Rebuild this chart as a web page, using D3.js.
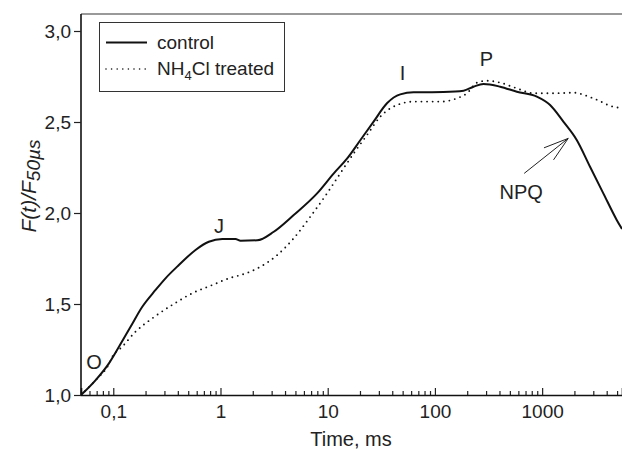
<!DOCTYPE html>
<html>
<head>
<meta charset="utf-8">
<script src="https://cdnjs.cloudflare.com/ajax/libs/d3/7.8.5/d3.min.js"></script>
<style>
body { margin: 0; background: #fff; }
svg { font-family: "Liberation Sans", Arial, sans-serif; }
</style>
</head>
<body>
<script>
// time in ms, fluorescence ratio F(t)/F50us
var controlT = [0.05, 0.0685, 0.0911, 0.113, 0.145, 0.1865, 0.248, 0.307, 0.409, 0.585, 0.778, 1.04, 1.38, 1.54, 2.2, 3.14, 4.82, 7.96, 11.4, 15.2, 20.2, 26.8, 35.7, 47.5, 63.2, 73, 120, 185, 229, 284, 406, 581, 892, 1186, 1577, 2102, 2797, 3721, 4960, 5557]
var controlF = [1.0, 1.082, 1.174, 1.265, 1.375, 1.485, 1.577, 1.641, 1.714, 1.797, 1.842, 1.857, 1.857, 1.848, 1.85, 1.897, 1.989, 2.108, 2.218, 2.30, 2.401, 2.502, 2.603, 2.652, 2.663, 2.663, 2.665, 2.672, 2.694, 2.709, 2.694, 2.666, 2.639, 2.593, 2.502, 2.401, 2.254, 2.108, 1.962, 1.912]

var treatedT = [0.05, 0.0685, 0.0911, 0.098, 0.121, 0.1615, 0.231, 0.355, 0.545, 0.837, 1.285, 1.54, 2.36, 3.38, 4.82, 6.89, 9.86, 13.1, 17.5, 23.3, 30.9, 44.3, 63.2, 112, 160, 199, 246, 305, 406, 581, 829, 1273, 1955, 3002, 4611, 5557]
var treatedF = [1.0, 1.082, 1.17, 1.21, 1.265, 1.348, 1.421, 1.495, 1.559, 1.604, 1.647, 1.659, 1.705, 1.769, 1.861, 1.98, 2.108, 2.218, 2.328, 2.429, 2.529, 2.593, 2.612, 2.612, 2.630, 2.658, 2.716, 2.727, 2.716, 2.685, 2.658, 2.658, 2.661, 2.630, 2.584, 2.577]

var xTicks = [0.1, 1, 10, 100, 1000]
var xTickLabels = ["0,1", "1", "10", "100", "1000"]
var yTicks = [1.0, 1.5, 2.0, 2.5, 3.0]
var yTickLabels = ["1,0", "1,5", "2,0", "2,5", "3,0"]

// phase labels: time, value
var phaseNames = ["O", "J", "I", "P"]
var phaseT = [0.066, 0.97, 50, 303]
var phaseF = [1.18, 1.93, 2.77, 2.845]

var W = 622, H = 452
var mLeft = 81, mRight = 622, mTop = 14, mBottom = 395

var svg = d3.select("body").append("svg")
  .attr("width", W)
  .attr("height", H)

var x = d3.scaleLog().domain([0.05, 5557]).range([mLeft, mRight])
var y = d3.scaleLinear().domain([1, 3.0934]).range([mBottom, mTop])

svg.append("clipPath").attr("id", "plotClip")
  .append("rect")
  .attr("x", mLeft).attr("y", mTop - 2)
  .attr("width", mRight - mLeft).attr("height", mBottom - mTop + 2)

// top frame line
svg.append("line")
  .attr("x1", mLeft).attr("x2", mRight)
  .attr("y1", mTop).attr("y2", mTop)
  .attr("stroke", "#777").attr("stroke-width", 1.5)

// minor x ticks
var minor = []
for (var e = -2; e <= 3; e++) {
  for (var m = 2; m <= 9; m++) {
    var v = m * Math.pow(10, e)
    if (v >= 0.05 && v <= 5557) minor.push(v)
  }
}

var xMinorAxis = d3.axisBottom(x).tickValues(minor).tickSize(-4).tickFormat("")
svg.append("g").attr("transform", "translate(0," + mBottom + ")")
  .call(xMinorAxis)
  .call(function(g) { g.select(".domain").remove() })
  .selectAll("line").attr("stroke", "#222").attr("stroke-width", 1.2)

var xAxis = d3.axisBottom(x)
  .tickValues(xTicks)
  .tickSize(-7)
  .tickPadding(10)
  .tickFormat(function(d, i) { return xTickLabels[i] })

var gx = svg.append("g").attr("transform", "translate(0," + mBottom + ")").call(xAxis)
gx.attr("font-size", 19).attr("font-family", null)
gx.select(".domain").attr("stroke", "#111").attr("stroke-width", 1.6)
gx.selectAll("line").attr("stroke", "#222").attr("stroke-width", 1.2)
gx.selectAll("text").attr("fill", "#222")

var yAxis = d3.axisLeft(y)
  .tickValues(yTicks)
  .tickSize(7)
  .tickPadding(3)
  .tickFormat(function(d, i) { return yTickLabels[i] })

var gy = svg.append("g").attr("transform", "translate(" + mLeft + ",0)").call(yAxis)
gy.attr("font-size", 19).attr("font-family", null)
gy.select(".domain").attr("d", "M0," + mTop + "V" + mBottom).attr("stroke", "#111").attr("stroke-width", 1.6)
gy.selectAll("line").attr("stroke", "#222").attr("stroke-width", 1.2)
gy.selectAll("text").attr("fill", "#222")

// curves
var line = d3.line()
  .x(function(d) { return x(d[0]) })
  .y(function(d) { return y(d[1]) })
  .curve(d3.curveMonotoneX)

var plot = svg.append("g").attr("clip-path", "url(#plotClip)")

plot.append("path")
  .datum(d3.zip(treatedT, treatedF))
  .attr("d", line)
  .attr("fill", "none")
  .attr("stroke", "#111")
  .attr("stroke-width", 1.9)
  .attr("stroke-linecap", "round")
  .attr("stroke-dasharray", "0,5.6")

plot.append("path")
  .datum(d3.zip(controlT, controlF))
  .attr("d", line)
  .attr("fill", "none")
  .attr("stroke", "#111")
  .attr("stroke-width", 2)
  .attr("stroke-linejoin", "round")

// phase letters
svg.selectAll(".phase")
  .data(phaseNames)
  .enter()
  .append("text")
  .attr("class", "phase")
  .attr("x", function(d, i) { return x(phaseT[i]) })
  .attr("y", function(d, i) { return y(phaseF[i]) })
  .attr("text-anchor", "middle")
  .attr("dy", "0.36em")
  .attr("font-size", 20)
  .attr("fill", "#222")
  .text(function(d) { return d })

// NPQ arrow
var npqFrom = [x(1750) - 44, y(2.41) + 35]
var npqTo = [x(1750), y(2.41)]
svg.append("text")
  .attr("x", npqFrom[0] - 3).attr("y", npqFrom[1] + 26)
  .attr("text-anchor", "middle")
  .attr("font-size", 20)
  .attr("fill", "#222")
  .text("NPQ")

svg.append("line")
  .attr("x1", npqFrom[0]).attr("y1", npqFrom[1])
  .attr("x2", npqTo[0]).attr("y2", npqTo[1])
  .attr("stroke", "#222").attr("stroke-width", 1)

var ang = Math.atan2(npqTo[1] - npqFrom[1], npqTo[0] - npqFrom[0])
var headLen = 26, spread = 0.3
svg.append("path")
  .attr("d", "M" + (npqTo[0] - headLen * Math.cos(ang - spread)) + "," + (npqTo[1] - headLen * Math.sin(ang - spread)) +
    "L" + npqTo[0] + "," + npqTo[1] +
    "L" + (npqTo[0] - headLen * Math.cos(ang + spread)) + "," + (npqTo[1] - headLen * Math.sin(ang + spread)))
  .attr("fill", "none")
  .attr("stroke", "#222").attr("stroke-width", 1)

// axis titles
svg.append("text")
  .attr("x", 351).attr("y", 446)
  .attr("text-anchor", "middle")
  .attr("font-size", 20)
  .attr("fill", "#222")
  .text("Time, ms")

var yt = svg.append("text")
  .attr("transform", "translate(36,186) rotate(-90)")
  .attr("text-anchor", "middle")
  .attr("font-size", 21)
  .attr("font-style", "italic")
  .attr("fill", "#222")
yt.append("tspan").text("F(t)/F")
yt.append("tspan").attr("dy", 4).attr("font-size", 19).text("50µs")

// legend
var legend = svg.append("g")
legend.append("rect")
  .attr("x", 99.5).attr("y", 22.5)
  .attr("width", 185).attr("height", 69)
  .attr("fill", "#fff")
  .attr("stroke", "#333").attr("stroke-width", 1)

legend.append("line")
  .attr("x1", 106).attr("x2", 147)
  .attr("y1", 42.5).attr("y2", 42.5)
  .attr("stroke", "#111").attr("stroke-width", 2)
legend.append("line")
  .attr("x1", 106).attr("x2", 146)
  .attr("y1", 69).attr("y2", 69)
  .attr("stroke", "#111").attr("stroke-width", 1.6)
  .attr("stroke-linecap", "round")
  .attr("stroke-dasharray", "0,5.6")

legend.append("text")
  .attr("x", 157).attr("y", 49)
  .attr("font-size", 19).attr("fill", "#222")
  .text("control")

var lt = legend.append("text")
  .attr("x", 157).attr("y", 75)
  .attr("font-size", 19).attr("fill", "#222")
lt.append("tspan").text("NH")
lt.append("tspan").attr("dy", 5).attr("font-size", 13).text("4")
lt.append("tspan").attr("dy", -5).text("Cl treated")
</script>
</body>
</html>
